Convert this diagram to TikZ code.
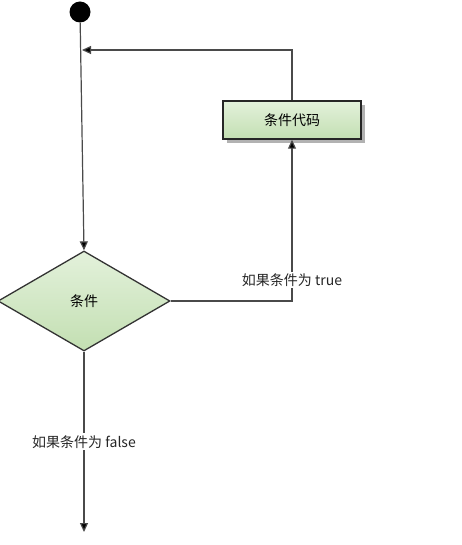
\documentclass[tikz,border=0pt]{standalone}
\usepackage{fontspec}
\setmainfont{Liberation Sans}
\newfontfamily\cjk{Noto Sans CJK SC}
\usetikzlibrary{arrows.meta,positioning,shapes.geometric,shadows}
\definecolor{Leaf}{HTML}{E3F1DB}
\definecolor{LeafDk}{HTML}{C3DFB2}
\definecolor{Wire}{HTML}{4A4A4A}
\begin{document}
\begin{tikzpicture}[x=1pt,y=-1pt,font=\cjk\fontsize{14}{16}\selectfont,
  blk/.style={draw=black!85,line width=1.5pt,top color=Leaf,bottom color=LeafDk,
    minimum width=138pt,minimum height=38pt,inner sep=0pt,
    drop shadow={shadow xshift=4pt,shadow yshift=-4pt,fill=black!30,opacity=1}},
  dec/.style={diamond,draw=black!80,line width=1.3pt,top color=Leaf,bottom color=LeafDk,
    aspect=1.72,minimum width=172pt,minimum height=100pt,inner sep=0pt},
  flow/.style={draw=Wire,line width=1.2pt,-{Triangle[length=9pt,width=8pt,fill=black]}},
  lbl/.style={fill=white,inner sep=2pt,text=black!85}]
\useasboundingbox (0,0) rectangle (461,545);
\def\xL{82}\def\xR{292}
\node[circle,fill=black,minimum size=21pt,inner sep=0pt] (start) at (80,12) {};
\node[dec] (cond) at (84,301) {条件};
\node[blk] (code) at (\xR,120) {条件代码};
\coordinate (join) at (\xL,50);
\coordinate (up) at (\xR,50);
\coordinate (turn) at (\xR,301);
\coordinate (exit) at (84,532);
\draw[flow] (start) -- (cond.north);
\draw[flow] (code.north) -- (up) -- (join);
\draw[flow] (cond.east) -- (turn) -- node[lbl,pos=0.13]{如果条件为 true} (code.south);
\draw[flow] (cond.south) -- node[lbl,pos=0.5]{如果条件为 false} (exit);
\end{tikzpicture}
\end{document}
